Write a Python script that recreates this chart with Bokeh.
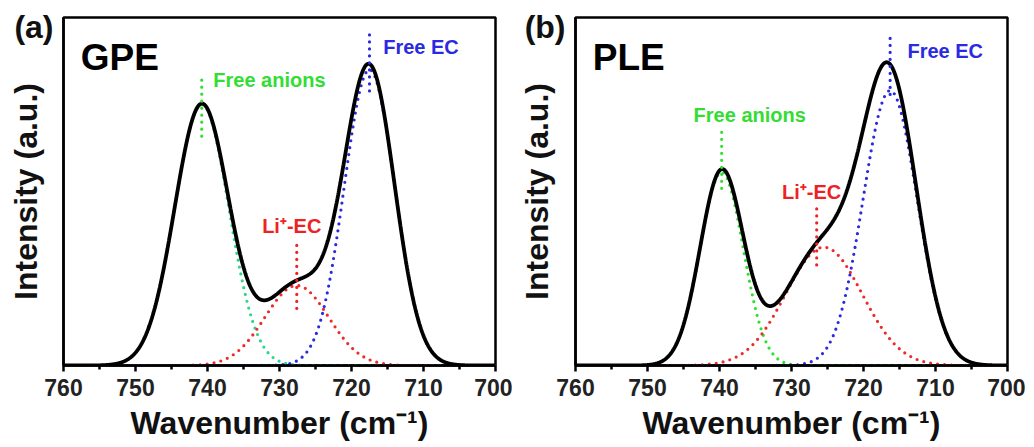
import numpy as np
from bokeh.plotting import figure
from bokeh.models import Range1d, Label, FixedTicker
from bokeh.layouts import row
from bokeh.embed import file_html
from bokeh.resources import INLINE

# ---- data ----
panel_tags = ["(a)", "(b)"]
panel_names = ["GPE", "PLE"]
x_ticks = [760, 750, 740, 730, 720, 710, 700]
component_names = ["Free anions", "Li\u207a-EC", "Free EC"]

# Gaussian components: centre (cm-1), height (a.u.), sigma (cm-1)
gpe_centers = [740.8, 727.6, 717.5]
gpe_heights = [0.75, 0.23, 0.85]
gpe_sigmas = [3.75, 4.4, 3.5]

ple_centers = [739.7, 725.5, 716.3]
ple_heights = [0.555, 0.34, 0.79]
ple_sigmas = [3.0, 5.3, 3.75]

# ---- styling ----
FONT = "Liberation Sans"
curve_colors_a = ["#2fd68a", "#ee2a2a", "#2a2ae0"]
curve_colors_b = ["#2ee02e", "#ee2a2a", "#2a2ae0"]
label_colors = ["#33dd33", "#ee2222", "#2a2ae0"]

xs = np.linspace(700, 760, 1201)


def gauss(c, h, s):
    return h * np.exp(-((xs - c) ** 2) / (2 * s * s))


def make_panel(tag, name, centers, heights, sigmas, curve_colors, right_border, marks, texts):
    p = figure(frame_width=432, frame_height=348, output_backend="svg",
               toolbar_location=None, x_range=Range1d(760, 700), y_range=Range1d(0, 1),
               min_border_left=63, min_border_right=right_border, min_border_top=17,
               min_border_bottom=10, background_fill_color="white",
               border_fill_color="white")
    p.grid.visible = False
    p.outline_line_color = "black"
    p.outline_line_width = 2.5
    p.outline_line_alpha = 1

    comps = [gauss(c, h, s) for c, h, s in zip(centers, heights, sigmas)]
    for comp, col in zip(comps, curve_colors):
        p.line(xs, comp, line_color=col, line_width=3.2, line_dash="0 7", line_cap="round")
    total = comps[0] + comps[1] + comps[2]
    p.line(xs, total, line_color="black", line_width=3.8)

    # vertical dotted peak markers
    for (xm, y0, y1), col in zip(marks, label_colors):
        p.segment(x0=[xm], y0=[y0], x1=[xm], y1=[y1], line_color=col, line_width=3.2,
                  line_dash="0 7", line_cap="round")

    for (tx, ty, align), txt, col in zip(texts, component_names, label_colors):
        p.add_layout(Label(x=tx, y=ty, text=txt, text_color=col, text_font=FONT,
                           text_font_style="bold", text_font_size="20px",
                           text_align=align, text_baseline="middle"))

    p.add_layout(Label(x=757.6, y=0.885, text=name, text_font=FONT, text_font_style="bold",
                       text_font_size="37px", text_baseline="middle", text_color="black"))

    xa = p.xaxis[0]
    xa.ticker = FixedTicker(ticks=x_ticks, minor_ticks=[755, 745, 735, 725, 715, 705])
    xa.axis_line_width = 2.5
    xa.major_tick_line_width = 2.5
    xa.minor_tick_line_width = 2.5
    xa.major_tick_out = 6
    xa.major_tick_in = 0
    xa.minor_tick_out = 4
    xa.minor_tick_in = 0
    xa.major_label_text_font = FONT
    xa.major_label_text_font_style = "bold"
    xa.major_label_text_font_size = "23px"
    xa.major_label_text_color = "#222222"
    xa.major_label_standoff = 7
    xa.axis_label = "Wavenumber (cm\u207b\u00b9)"
    xa.axis_label_text_font = FONT
    xa.axis_label_text_font_style = "bold"
    xa.axis_label_text_font_size = "32px"
    xa.axis_label_text_color = "#111111"
    xa.axis_label_standoff = 6

    # y axis: no value ticks; the panel tag sits where a tick label would
    ya = p.yaxis[0]
    ya.ticker = FixedTicker(ticks=[0.972])
    ya.major_label_overrides = {0.972: tag}
    ya.axis_line_width = 2.5
    ya.major_tick_line_color = None
    ya.minor_tick_line_color = None
    ya.major_tick_out = 0
    ya.major_tick_in = 0
    ya.minor_tick_out = 0
    ya.minor_tick_in = 0
    ya.major_label_text_font = FONT
    ya.major_label_text_font_style = "bold"
    ya.major_label_text_font_size = "32px"
    ya.major_label_text_color = "#111111"
    ya.major_label_standoff = 10
    ya.axis_label = "Intensity (a.u.)"
    ya.axis_label_text_font = FONT
    ya.axis_label_text_font_style = "bold"
    ya.axis_label_text_font_size = "32px"
    ya.axis_label_text_color = "#111111"
    ya.axis_label_standoff = -33
    return p


marks_a = [(gpe_centers[0], 0.82, 0.64), (gpe_centers[1], 0.345, 0.158), (gpe_centers[2], 0.95, 0.77)]
texts_a = [(739.2, 0.82, "left"), (728.3, 0.40, "center"), (715.6, 0.915, "left")]
marks_b = [(ple_centers[0], 0.67, 0.49), (726.5, 0.45, 0.27), (ple_centers[2], 0.94, 0.76)]
texts_b = [(735.8, 0.72, "center"), (727.2, 0.50, "center"), (713.9, 0.905, "left")]

pa = make_panel(panel_tags[0], panel_names[0], gpe_centers, gpe_heights, gpe_sigmas,
                curve_colors_a, 17, marks_a, texts_a)
pb = make_panel(panel_tags[1], panel_names[1], ple_centers, ple_heights, ple_sigmas,
                curve_colors_b, 18, marks_b, texts_b)

layout = row(pa, pb)
open("out.html", "w").write(file_html(layout, INLINE))
